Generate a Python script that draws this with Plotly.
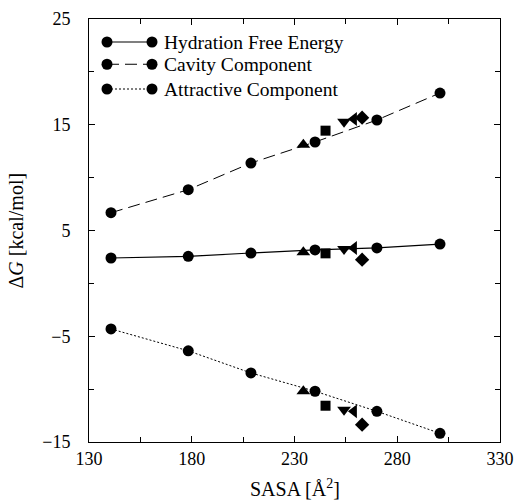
import plotly.graph_objects as go

# Main series (circles), SASA in A^2, dG in kcal/mol
circle_sasa = [140.7, 178.3, 208.8, 240.0, 270.1, 300.8]
hydration = [2.40, 2.56, 2.87, 3.16, 3.35, 3.72]
cavity = [6.68, 8.86, 11.38, 13.37, 15.45, 18.00]
attractive = [-4.31, -6.38, -8.47, -10.20, -12.10, -14.18]

# Additional compounds (other symbols)
other_sasa = [234.3, 245.1, 254.1, 258.9, 262.9]
other_symbols = ["triangle-up", "square", "triangle-down", "triangle-left", "diamond"]
other_sizes = [12, 10, 12, 12, 11]
other_hydration = [2.94, 2.84, 3.25, 3.35, 2.24]
other_cavity = [13.10, 14.44, 15.29, 15.54, 15.67]
other_attractive = [-10.20, -11.57, -11.95, -12.10, -13.36]

legend_names = ["Hydration Free Energy", "Cavity Component", "Attractive Component"]
x_ticks = [130, 180, 230, 280, 330]
y_ticks = [-15, -5, 5, 15, 25]

series = [hydration, cavity, attractive]
others = [other_hydration, other_cavity, other_attractive]
dashes = ["solid", "12px,6px", "2px,2px"]
widths = [1.2, 1.0, 1.0]

SERIF = "Liberation Serif, Times New Roman, Times, DejaVu Serif, serif"
font = dict(family=SERIF, size=18, color="black")
legend_font = dict(family=SERIF, size=19.5, color="black")
title_font = dict(family=SERIF, size=20, color="black")

fig = go.Figure()
for ys, dash, w in zip(series, dashes, widths):
    fig.add_trace(go.Scatter(
        x=circle_sasa, y=ys, mode="lines+markers",
        line=dict(color="black", width=w, dash=dash),
        marker=dict(symbol="circle", size=11, color="black", opacity=1),
        showlegend=False, cliponaxis=False))

for ys in others:
    fig.add_trace(go.Scatter(
        x=other_sasa, y=ys, mode="markers",
        marker=dict(symbol=other_symbols, size=other_sizes, color="black",
                    opacity=1, line=dict(width=0)),
        showlegend=False))

# Hand-made legend (marker-line-marker glyphs) on an overlay axis
legend_rows = [0.9456, 0.8930, 0.8345]
glyph_x = [0.0438, 0.1533]
for row, dash, w, name in zip(legend_rows, dashes, widths, legend_names):
    fig.add_trace(go.Scatter(
        x=glyph_x, y=[row, row], xaxis="x2", yaxis="y2",
        mode="lines+markers",
        line=dict(color="black", width=w, dash=dash),
        marker=dict(symbol="circle", size=11, color="black", opacity=1),
        showlegend=False))
    fig.add_annotation(x=0.177, y=row, xref="paper", yref="paper",
                       text=name, showarrow=False, xanchor="left", yanchor="middle",
                       font=legend_font)

# Axis titles as annotations (keeps the plot area fixed)
fig.add_annotation(x=0.5, y=0, xref="paper", yref="paper", yshift=-46,
                   text="SASA [Å<sup>2</sup>]", showarrow=False,
                   xanchor="center", yanchor="middle", font=title_font)
fig.add_annotation(x=0, y=0.5, xref="paper", yref="paper", xshift=-74,
                   text="\u0394<i>G</i> [kcal/mol]", showarrow=False, textangle=-90,
                   xanchor="center", yanchor="middle", font=title_font)

axis_common = dict(
    showgrid=False, zeroline=False, showline=True, linecolor="black", linewidth=1,
    mirror="ticks", ticks="inside", ticklen=6, tickcolor="black", tickwidth=1,
    tickfont=font, automargin=False,
)

fig.update_layout(
    width=517, height=502,
    margin=dict(l=89, r=17, t=19, b=60, autoexpand=False),
    paper_bgcolor="white", plot_bgcolor="white",
    font=font,
    xaxis=dict(range=[130, 330], tickvals=x_ticks, ticktext=[str(v) for v in x_ticks],
               minor=dict(ticks="inside", ticklen=5, tickcolor="black", dtick=25, tick0=130),
               **axis_common),
    yaxis=dict(range=[-15, 25], tickvals=y_ticks,
               ticktext=["\u221215", "\u22125", "5", "15", "25"],
               minor=dict(ticks="inside", ticklen=5, tickcolor="black", dtick=5, tick0=-15),
               ticklabelstandoff=14,
               **axis_common),
    xaxis2=dict(range=[0, 1], overlaying="x", visible=False),
    yaxis2=dict(range=[0, 1], overlaying="y", visible=False),
)

fig.write_html("out.html")
